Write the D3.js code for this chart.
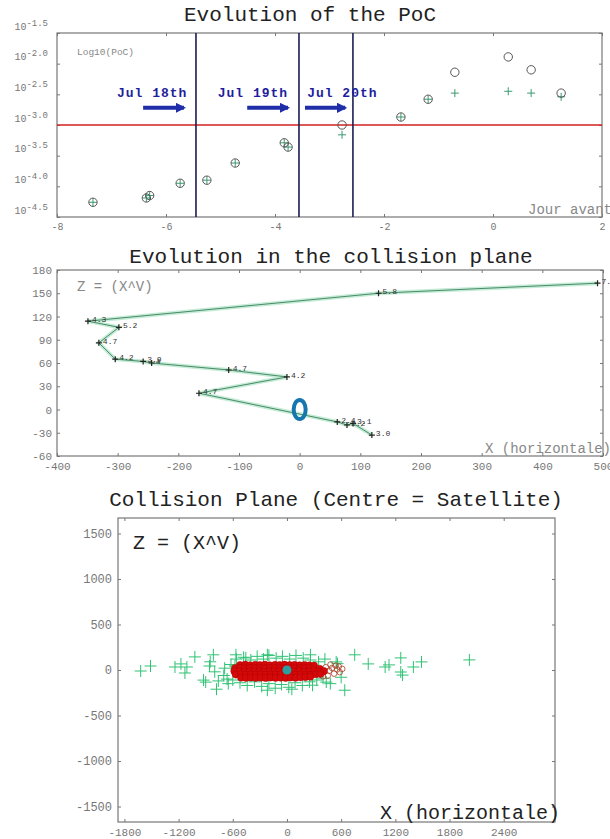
<!DOCTYPE html>
<html>
<head>
<meta charset="utf-8">
<script src="https://cdn.jsdelivr.net/npm/d3@7"></script>
<style>
  body { margin: 0; background: #fff; }
  svg { display: block; }
  .tick text { font-family: "Liberation Mono", monospace; fill: #777; }
  .tick line { stroke: #777; }
  .title { font-family: "Liberation Mono", monospace; font-size: 21px; fill: #222; }
  .note { font-family: "Liberation Mono", monospace; fill: #888; }
</style>
</head>
<body>
<svg id="chart" width="610" height="839"></svg>
<script>
// ---------- Evolution of the PoC (days before TCA, log10 PoC)
const pocDay    = [-7.34, -6.36, -6.30, -5.74, -5.25, -4.73, -3.83, -3.76, -2.77, -1.69, -1.19, -0.70, 0.28, 0.70, 1.25]
const pocCircle = [-4.26, -4.19, -4.15, -3.95, -3.90, -3.62, -3.29, -3.36, -3.00, -2.87, -2.58, -2.14, -1.89, -2.10, -2.48]
const pocPlus   = [-4.26, -4.19, -4.15, -3.95, -3.90, -3.62, -3.29, -3.36, -3.16, -2.87, -2.58, -2.48, -2.45, -2.48, -2.54]
const pocThreshold = -3.0
const pocXTicks = [-8, -6, -4, -2, 0, 2]
const pocYTicks = [-4.5, -4.0, -3.5, -3.0, -2.5, -2.0, -1.5]

// day markers
const dayLines  = [-5.45, -3.56, -2.57]
const dayLabels = ['Jul 18th', 'Jul 19th', 'Jul 20th']
const dayLabelX = [-6.90, -5.05, -3.41]
const arrowFrom = [-6.42, -4.51, -3.45]
const arrowTo   = [-5.58, -3.67, -2.62]
const dayLabelLevel = -2.54
const arrowLevel = -2.72

// ---------- Evolution in the collision plane (track)
const trackX = [491, 130, -349, -298, -331, -304, -258, -244, -117, -21, -166, 62, 78, 88, 119]
const trackZ = [163, 150, 114, 106, 86, 65, 62, 60, 51, 42, 21, -16, -20, -18, -33]
const trackLabel = ['7.3', '5.8', '4.3', '5.2', '4.7', '4.2', '3.9', '4', '4.7', '4.2', '4.7', '2.4', '2.2', '3.1', '3.0']
const trackXTicks = [-400, -300, -200, -100, 0, 100, 200, 300, 400, 500]
const trackZTicks = [-60, -30, 0, 30, 60, 90, 120, 150, 180]
const satellite = [0, 0]

// ---------- Collision plane (centre = satellite)
const debrisRed = [
  [-520, 55], [-462, 58], [-410, 52], [-352, 57], [-300, 54], [-244, 58], [-190, 52], [-133, 56], [-80, 55], [-27, 58], [30, 53], [84, 56], [141, 52], [196, 55], [248, 50], [300, 48],
  [-575, 20], [-521, 22], [-466, 18], [-410, 21], [-355, 19], [-298, 22], [-246, 18], [-190, 21], [-134, 20], [-80, 17], [-24, 22], [31, 19], [86, 20], [140, 18], [196, 22], [251, 19], [305, 17], [362, 14],
  [-582, -15], [-526, -12], [-470, -17], [-414, -14], [-361, -16], [-305, -13], [-250, -18], [-194, -14], [-140, -16], [-86, -12], [-30, -17], [25, -14], [80, -16], [136, -12], [190, -18], [245, -15], [300, -13], [356, -17], [410, -12],
  [-566, -50], [-510, -47], [-456, -52], [-400, -49], [-345, -51], [-290, -47], [-236, -52], [-180, -48], [-125, -50], [-71, -46], [-15, -52], [40, -49], [95, -51], [150, -47], [206, -50], [260, -52], [316, -46], [370, -44],
  [-508, -84], [-455, -87], [-400, -82], [-346, -86], [-290, -84], [-236, -88], [-180, -82], [-126, -86], [-70, -84], [-15, -87], [40, -82], [95, -85], [150, -80], [204, -78], [258, -74]
]
const debrisRedOutliers = [
  [430, 30], [468, -8], [500, 22], [522, -40], [556, 6], [585, -24], [612, 12], [452, -62], [540, 48], [482, 60], [400, -70], [575, 38]
]
const debrisGreen = [
  [-700, -60], [-760, -120], [-650, -150], [-620, 60], [-690, 20], [-560, 120], [-480, 140], [-400, 110], [-330, 150], [-260, 120],
  [-200, 160], [-120, 130], [-50, 150], [30, 120], [100, 160], [180, 130], [260, 110], [350, 90], [420, 120], [-600, -110],
  [-520, -140], [-440, -170], [-360, -130], [-280, -180], [-200, -150], [-130, -200], [-60, -160], [20, -190], [90, -140], [170, -170],
  [250, -130], [330, -110], [400, -90], [480, -150], [-800, -20], [-850, 90], [560, 70], [600, -80],
  [-1620, -11], [-1511, 44], [-1240, 33], [-1174, 67], [-1130, -33], [-1108, 33], [-1020, 144], [-924, -111], [-900, -133], [-858, 44],
  [-815, 167], [-780, -211], [-663, -100], [-576, 44], [-565, 167], [-456, 133], [-217, -222], [-217, 167], [54, -211], [260, 167],
  [283, -167], [435, -133], [545, 89], [640, -222], [750, 167], [900, 67], [1087, 33], [1130, 56], [1260, 133], [1260, -22],
  [1280, -56], [1400, 33], [1490, 89], [2020, 111]
]
const planeXTicks = [-1800, -1200, -600, 0, 600, 1200, 1800, 2400]
const planeZTicks = [-1500, -1000, -500, 0, 500, 1000, 1500]

const plain = d => String(d)

const svg = d3.select('#chart')
svg.append('rect').attr('width', 610).attr('height', 839).attr('fill', '#fff')

// draw the box and ticks round a plot
function frame(g, x, y, xt, yt, fs) {
  const [x0, x1] = x.range(), [y0, y1] = y.range()
  g.append('rect')
    .attr('x', x0).attr('y', y1)
    .attr('width', x1 - x0).attr('height', y0 - y1)
    .attr('fill', 'none').attr('stroke', '#777').attr('stroke-width', 1.2)

  g.append('g').attr('transform', `translate(0,${y0})`)
    .call(d3.axisBottom(x).tickValues(xt).tickFormat(plain).tickSizeInner(-3).tickSizeOuter(0).tickPadding(6))
    .call(a => a.select('.domain').remove())
    .selectAll('text').style('font-size', fs + 'px')
  g.append('g').attr('transform', `translate(0,${y1})`)
    .call(d3.axisTop(x).tickValues(xt).tickSizeInner(-3).tickSizeOuter(0).tickFormat(''))
    .call(a => a.select('.domain').remove())
  g.append('g').attr('transform', `translate(${x1},0)`)
    .call(d3.axisRight(y).tickValues(yt).tickSizeInner(-3).tickSizeOuter(0).tickFormat(''))
    .call(a => a.select('.domain').remove())
}

// ================= Chart 1 =================
const x1 = d3.scaleLinear().domain([-8, 2]).range([57, 602])
const y1 = d3.scaleLinear().domain([-4.5, -1.5]).range([217, 33])
const g1 = svg.append('g')

g1.append('text').attr('class', 'title').attr('x', 310).attr('y', 21)
  .attr('text-anchor', 'middle').text('Evolution of the PoC')

frame(g1, x1, y1, pocXTicks, pocYTicks, 10)

// left axis with 10^x labels
g1.append('g').attr('transform', 'translate(57,0)')
  .call(d3.axisLeft(y1).tickValues(pocYTicks).tickSizeInner(-3).tickSizeOuter(0).tickFormat(''))
  .call(a => a.select('.domain').remove())
  .selectAll('.tick').append('text')
  .attr('x', -9).attr('y', -4).attr('text-anchor', 'end')
  .style('font-size', '10px')
  .call(t => t.append('tspan').text('10'))
  .call(t => t.append('tspan').attr('dy', -4).style('font-size', '9px').text(d => d.toFixed(1)))

// threshold line
g1.append('line')
  .attr('x1', x1(-8)).attr('x2', x1(2))
  .attr('y1', y1(pocThreshold)).attr('y2', y1(pocThreshold))
  .attr('stroke', '#d42020').attr('stroke-width', 1.5)

// day lines
g1.selectAll('.dayline').data(dayLines).join('line')
  .attr('x1', d => x1(d)).attr('x2', d => x1(d))
  .attr('y1', y1(-1.5)).attr('y2', y1(-4.5))
  .attr('stroke', '#1c1c55').attr('stroke-width', 1.6)

g1.selectAll('.daylabel').data(dayLabels).join('text')
  .attr('x', (d, i) => x1(dayLabelX[i])).attr('y', y1(dayLabelLevel))
  .attr('font-family', 'Liberation Mono, monospace').attr('font-weight', 'bold')
  .attr('font-size', 13).attr('letter-spacing', 1)
  .attr('fill', '#1e1e9c').text(d => d)

svg.append('defs').append('marker')
  .attr('id', 'head').attr('viewBox', '0 0 10 10').attr('refX', 8).attr('refY', 5)
  .attr('markerWidth', 2.6).attr('markerHeight', 2.6).attr('orient', 'auto')
  .append('path').attr('d', 'M0,0L10,5L0,10Z').attr('fill', '#1f2ea8')

g1.selectAll('.arrow').data(arrowFrom).join('line')
  .attr('x1', d => x1(d)).attr('x2', (d, i) => x1(arrowTo[i]) - 5)
  .attr('y1', y1(arrowLevel)).attr('y2', y1(arrowLevel))
  .attr('stroke', '#1f2ea8').attr('stroke-width', 4)
  .attr('marker-end', 'url(#head)')

g1.append('text').attr('class', 'note').attr('x', 77).attr('y', 55)
  .style('font-size', '9.5px').attr('fill', '#777').text('Log10(PoC)')
g1.append('text').attr('class', 'note').attr('x', 528).attr('y', 214)
  .style('font-size', '14px').attr('fill', '#777').text('Jour avant')

// plus and circle markers
g1.selectAll('.pplus').data(pocDay).join('path')
  .attr('transform', (d, i) => `translate(${x1(d)},${y1(pocPlus[i])})`)
  .attr('d', 'M-4,0H4M0,-4V4')
  .attr('stroke', '#3c9a70').attr('stroke-width', 1)
g1.selectAll('.pcircle').data(pocDay).join('circle')
  .attr('cx', d => x1(d)).attr('cy', (d, i) => y1(pocCircle[i]))
  .attr('r', 4.2).attr('fill', 'none')
  .attr('stroke', '#555').attr('stroke-width', 1)

// ================= Chart 2 =================
const x2 = d3.scaleLinear().domain([-400, 500]).range([57, 603])
const y2 = d3.scaleLinear().domain([-60, 180]).range([456, 270])
const g2 = svg.append('g')

g2.append('text').attr('class', 'title').attr('x', 331).attr('y', 263)
  .attr('text-anchor', 'middle').text('Evolution in the collision plane')

frame(g2, x2, y2, trackXTicks, trackZTicks, 11)
g2.append('g').attr('transform', 'translate(57,0)')
  .call(d3.axisLeft(y2).tickValues(trackZTicks).tickFormat(plain).tickSizeInner(-3).tickSizeOuter(0).tickPadding(5))
  .call(a => a.select('.domain').remove())
  .selectAll('text').style('font-size', '11px')

g2.append('text').attr('class', 'note').attr('x', 77).attr('y', 291)
  .style('font-size', '14px').text('Z = (X^V)')
g2.append('text').attr('class', 'note').attr('x', 485).attr('y', 453)
  .style('font-size', '14px').text('X (horizontale)')

const track = d3.line().x(d => x2(d[0])).y(d => y2(d[1]))
const trackPts = d3.zip(trackX, trackZ)
g2.append('path').attr('d', track(trackPts))
  .attr('fill', 'none').attr('stroke', '#c4ecd6').attr('stroke-width', 4)
g2.append('path').attr('d', track(trackPts))
  .attr('fill', 'none').attr('stroke', '#4a8a68').attr('stroke-width', 1)

g2.selectAll('.tmark').data(trackPts).join('path')
  .attr('transform', d => `translate(${x2(d[0])},${y2(d[1])})`)
  .attr('d', 'M-3,0H3M0,-3V3')
  .attr('stroke', '#222').attr('stroke-width', 1.2)
g2.selectAll('.tlabel').data(trackPts).join('text')
  .attr('x', d => x2(d[0]) + 4).attr('y', d => y2(d[1]) + 1)
  .attr('font-family', 'Liberation Mono, monospace').attr('font-size', 8)
  .attr('fill', '#333').text((d, i) => trackLabel[i])

g2.append('ellipse')
  .attr('cx', x2(satellite[0])).attr('cy', y2(satellite[1]))
  .attr('rx', 6).attr('ry', 9.5)
  .attr('fill', 'none').attr('stroke', '#1577ad').attr('stroke-width', 4)

// ================= Chart 3 =================
const x3 = d3.scaleLinear().domain([-1871, 2968]).range([118, 555])
const y3 = d3.scaleLinear().domain([-1670, 1670]).range([822, 518])
const g3 = svg.append('g')

g3.append('text').attr('class', 'title').attr('x', 336).attr('y', 506)
  .attr('text-anchor', 'middle').text('Collision Plane (Centre = Satellite)')

frame(g3, x3, y3, planeXTicks, planeZTicks, 11)
g3.append('g').attr('transform', 'translate(118,0)')
  .call(d3.axisLeft(y3).tickValues(planeZTicks).tickFormat(plain).tickSizeInner(-3).tickSizeOuter(0).tickPadding(6))
  .call(a => a.select('.domain').remove())
  .selectAll('text').style('font-size', '12px')

g3.append('text').attr('class', 'title').attr('x', 133).attr('y', 549)
  .style('font-size', '20px').text('Z = (X^V)')
g3.append('text').attr('class', 'title').attr('x', 380).attr('y', 819)
  .style('font-size', '20px').text('X (horizontale)')

g3.selectAll('.gplus').data(debrisGreen).join('path')
  .attr('transform', d => `translate(${x3(d[0])},${y3(d[1])})`)
  .attr('d', 'M-6,0H6M0,-6V6')
  .attr('stroke', '#2fc274').attr('stroke-width', 1)
g3.selectAll('.rout').data(debrisRedOutliers).join('circle')
  .attr('cx', d => x3(d[0])).attr('cy', d => y3(d[1])).attr('r', 2.8)
  .attr('fill', 'none').attr('stroke', '#a8442a').attr('stroke-width', 0.8)
g3.selectAll('.rdot').data(debrisRed).join('circle')
  .attr('cx', d => x3(d[0])).attr('cy', d => y3(d[1])).attr('r', 3.6)
  .attr('fill', '#d40a0a').attr('stroke', '#b00000').attr('stroke-width', 0.5)
g3.append('circle')
  .attr('cx', x3(satellite[0])).attr('cy', y3(satellite[1])).attr('r', 4.5)
  .attr('fill', '#2a9fa0')
</script>
</body>
</html>
